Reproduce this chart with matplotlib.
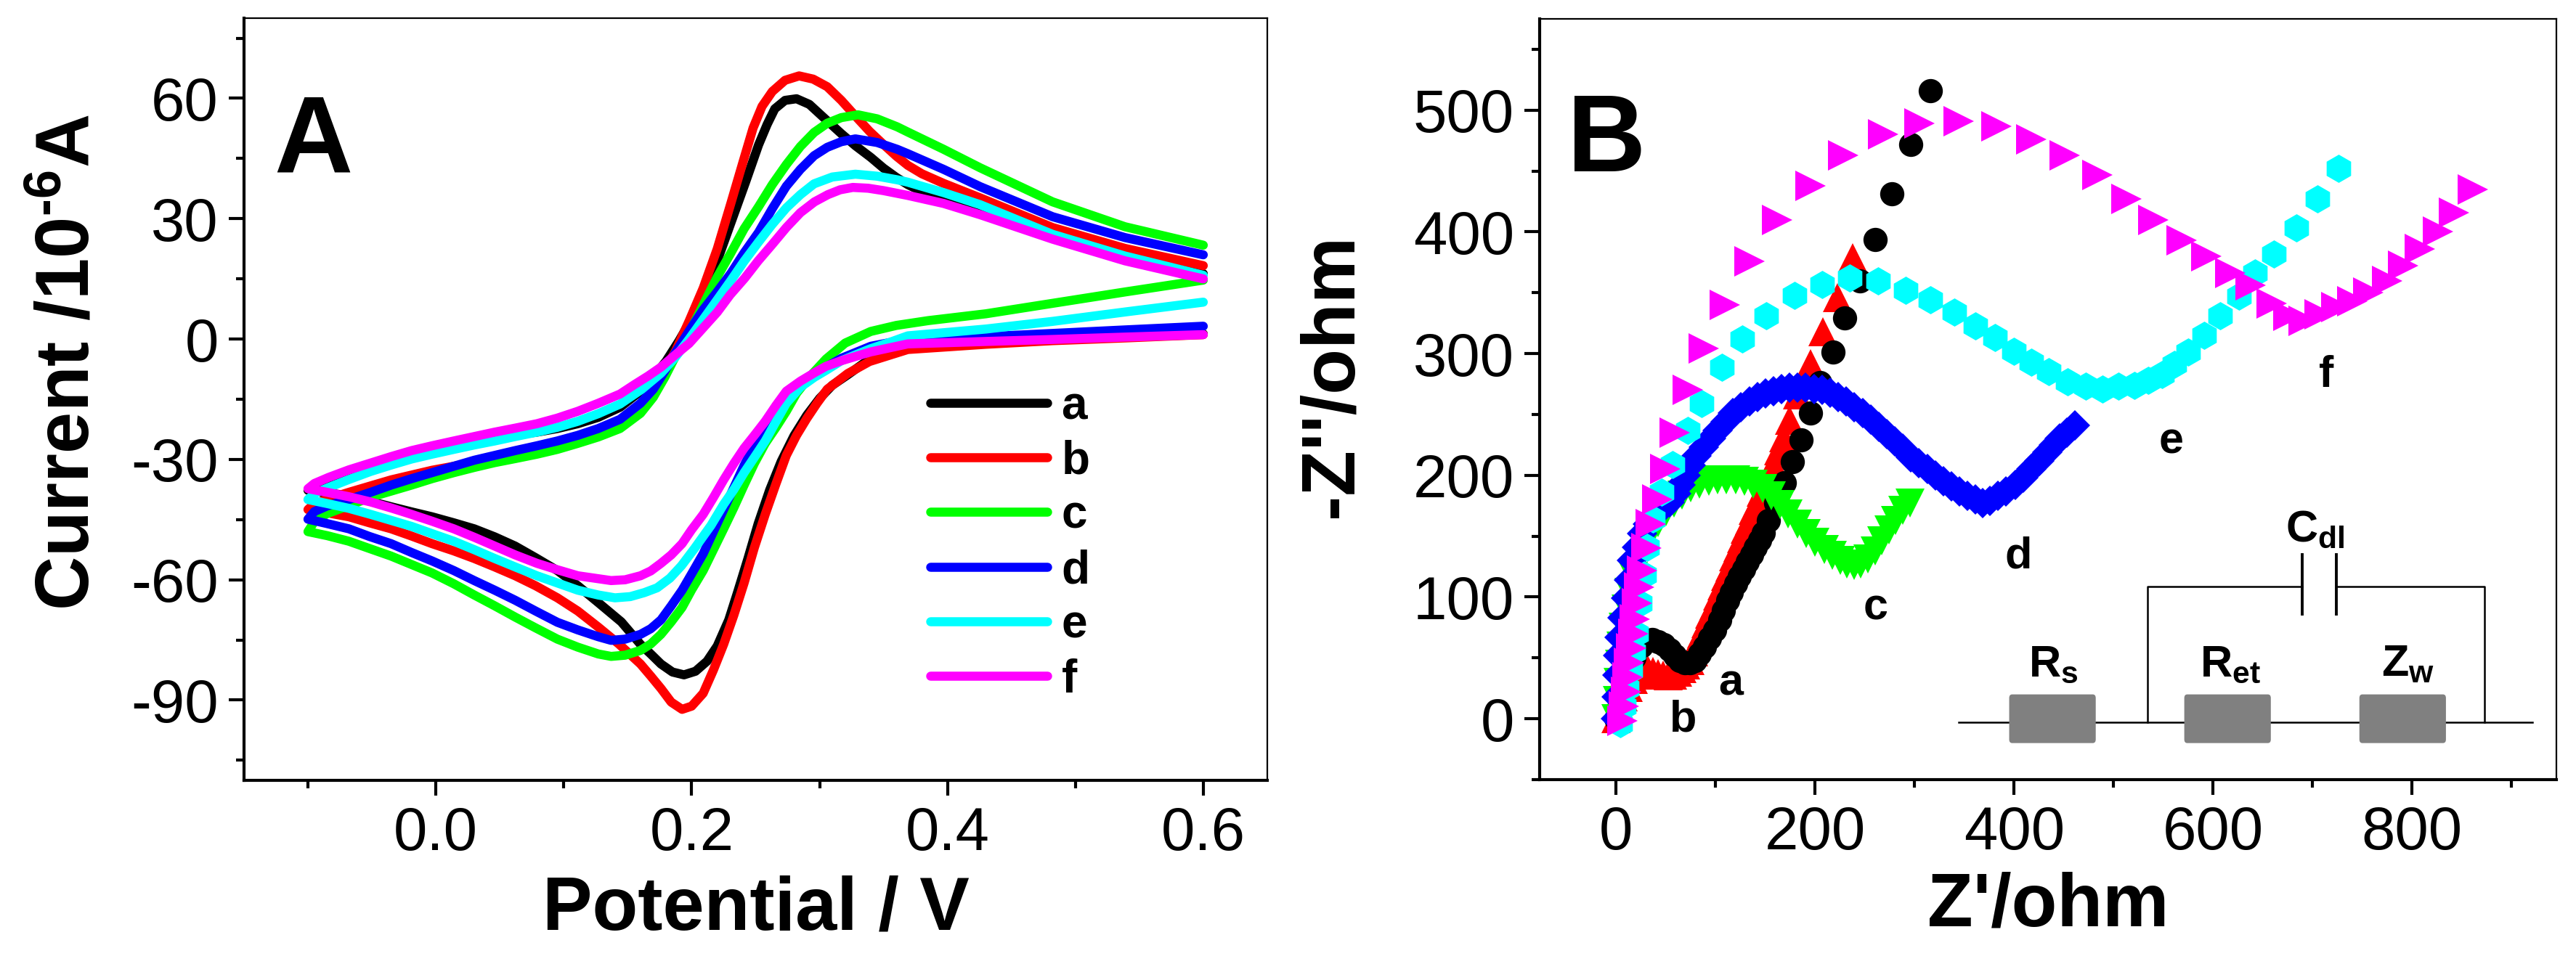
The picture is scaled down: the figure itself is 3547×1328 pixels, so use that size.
import matplotlib
matplotlib.use("Agg")
import matplotlib.pyplot as plt
from matplotlib.ticker import MultipleLocator, FormatStrFormatter
from matplotlib.patches import FancyBboxPatch

plt.rcParams['font.family'] = ['Liberation Sans', 'DejaVu Sans']
plt.rcParams['axes.unicode_minus'] = False
plt.rcParams['mathtext.fontset'] = 'custom'
plt.rcParams['mathtext.rm'] = 'Liberation Sans'
plt.rcParams['mathtext.bf'] = 'Liberation Sans:bold'
plt.rcParams['mathtext.it'] = 'Liberation Sans:italic'

# ---------------- panel A: cyclic voltammograms (reverse branch 0.6 -> -0.1, then forward -0.1 -> 0.6)
E_a = [0.6, 0.54, 0.482, 0.43, 0.369, 0.34, 0.322, 0.31, 0.3, 0.29, 0.28, 0.27, 0.261, 0.252, 0.244, 0.236,
       0.229, 0.22, 0.212, 0.203, 0.194, 0.185, 0.176, 0.168, 0.16, 0.145, 0.127, 0.111, 0.095, 0.078, 0.062,
       0.046, 0.03, 0.014, -0.003, -0.02, -0.035, -0.052, -0.068, -0.085, -0.1,
       -0.095, -0.084, -0.068, -0.051, -0.035, -0.019, -0.003, 0.014, 0.03, 0.046, 0.062, 0.079, 0.095, 0.111,
       0.127, 0.144, 0.158, 0.17, 0.18, 0.19, 0.2, 0.209, 0.22, 0.2307, 0.242, 0.2523, 0.259, 0.265, 0.273,
       0.282, 0.292, 0.306, 0.317, 0.328, 0.34, 0.35, 0.36, 0.369, 0.38, 0.397, 0.4255, 0.4822, 0.5388, 0.6]
I_a = [1.3, 0.6, 0.0, -0.9, -2.3, -4.8, -8.9, -11.5, -14.8, -19.0, -24.1, -30.5, -37.6, -46, -54.7, -63,
       -70.0, -76.5, -80.3, -82.8, -83.7, -83.0, -81.0, -78.5, -76.1, -70.5, -65.7, -61.5, -57.7, -54.5, -51.6,
       -49.3, -47.3, -45.8, -44.3, -43.0, -41.8, -40.4, -39.1, -38.3, -37.7,
       -36.5, -35.1, -33.4, -31.8, -30.4, -29.0, -27.9, -26.9, -25.8, -24.7, -23.9, -23.2, -22.3, -21.1,
       -19.5, -17.0, -13.5, -9.5, -5.5, -0.5, 5.0, 10.9, 19.5, 29.0, 39.0, 48.4, 53.5, 57.4, 59.5,
       59.9, 58.5, 54.4, 51.2, 48.2, 45.3, 42.6, 40.3, 38.5, 36.8, 34.6, 31.5, 25.6, 20.5, 16.3]

E_b = [0.6, 0.54, 0.482, 0.43, 0.369, 0.339, 0.322, 0.306, 0.298, 0.29, 0.282, 0.274, 0.266, 0.2575, 0.249,
       0.241, 0.233, 0.225, 0.217, 0.209, 0.2, 0.1925, 0.184, 0.176, 0.168, 0.16, 0.143, 0.127, 0.111, 0.095,
       0.078, 0.062, 0.046, 0.03, 0.014, -0.003, -0.019, -0.035, -0.052, -0.068, -0.085, -0.1,
       -0.095, -0.084, -0.068, -0.051, -0.035, -0.019, -0.003, 0.014, 0.03, 0.046, 0.062, 0.079, 0.095, 0.111,
       0.127, 0.144, 0.155, 0.1656, 0.176, 0.1873, 0.198, 0.209, 0.22, 0.2307, 0.24, 0.248, 0.255, 0.263, 0.273,
       0.284, 0.295, 0.306, 0.317, 0.328, 0.339, 0.35, 0.36, 0.369, 0.38, 0.397, 0.4255, 0.4822, 0.5388, 0.6]
I_b = [1.1, 0.3, -0.4, -1.3, -2.6, -5.6, -8.6, -12.5, -16, -19.8, -24, -29.0, -36, -43.7, -52,
       -60.8, -68.8, -76.1, -82.5, -88.3, -91.5, -92.3, -90.5, -87.1, -84.0, -81.0, -76.0, -71.8, -67.8, -64.5,
       -61.5, -59.0, -56.8, -54.7, -52.8, -51.0, -49.1, -47.3, -45.8, -44.3, -43.3, -42.5,
       -41.0, -39.8, -38.2, -36.6, -35.1, -33.9, -32.7, -31.7, -30.8, -30.0, -29.3, -28.3, -27.2, -25.8,
       -24.1, -21.5, -18.5, -14.7, -9.5, -3.0, 4.5, 12.7, 22.5, 33.9, 44.0, 52.6, 58.0, 61.7, 64.5,
       65.6, 64.8, 62.9, 59.5, 55.6, 51.8, 48.5, 45.6, 43.3, 41.2, 38.8, 35.2, 27.8, 22.6, 18.3]

E_c = [0.6, 0.54, 0.482, 0.43, 0.385, 0.36, 0.34, 0.32, 0.305, 0.292, 0.282, 0.274, 0.266, 0.2575, 0.249,
       0.241, 0.233, 0.225, 0.217, 0.209, 0.2, 0.1925, 0.184, 0.176, 0.168, 0.16, 0.148, 0.137, 0.127, 0.111,
       0.095, 0.078, 0.062, 0.046, 0.03, 0.014, -0.003, -0.019, -0.035, -0.052, -0.068, -0.085, -0.1,
       -0.095, -0.085, -0.068, -0.051, -0.035, -0.019, -0.003, 0.014, 0.03, 0.046, 0.062, 0.079, 0.095, 0.111,
       0.127, 0.144, 0.16, 0.17, 0.179, 0.187, 0.198, 0.209, 0.22, 0.2307, 0.241, 0.2523, 0.263, 0.274, 0.285,
       0.2957, 0.306, 0.317, 0.33, 0.345, 0.3607, 0.369, 0.397, 0.4255, 0.4822, 0.5388, 0.6]
I_c = [14.7, 11.8, 8.9, 6.3, 4.6, 3.4, 1.9, -1.0, -5.0, -9.5, -13.5, -18.0, -22.0, -26.0, -31,
       -36.4, -42, -47.3, -52.5, -57.7, -62.5, -66.9, -70.5, -73.6, -76, -77.6, -78.8, -79.1, -78.5, -76.8,
       -74.8, -72, -69.3, -66.5, -63.8, -61, -58.3, -56.2, -54.1, -52.2, -50.4, -49.0, -48.0,
       -45.5, -43.5, -41.5, -39.4, -37.9, -36.4, -34.8, -33.3, -32.0, -30.8, -29.8, -28.7, -27.5, -26.0,
       -24.4, -22.3, -18.5, -14.5, -9.5, -4.5, 1.5, 8.5, 15.5, 21.5, 27.5, 33.0, 38.5, 43.5, 48.0,
       51.5, 53.8, 55.2, 55.9, 54.9, 52.9, 51.6, 47.3, 42.7, 34.2, 28.0, 23.4]

E_d = [0.6, 0.54, 0.482, 0.43, 0.369, 0.34, 0.317, 0.305, 0.296, 0.29, 0.282, 0.274, 0.266, 0.2575, 0.249,
       0.241, 0.233, 0.225, 0.217, 0.209, 0.2, 0.1925, 0.184, 0.176, 0.168, 0.16, 0.148, 0.137, 0.127, 0.111,
       0.095, 0.078, 0.062, 0.046, 0.03, 0.014, -0.003, -0.019, -0.035, -0.052, -0.068, -0.085, -0.1,
       -0.095, -0.085, -0.068, -0.051, -0.035, -0.019, -0.003, 0.014, 0.03, 0.046, 0.062, 0.079, 0.095, 0.111,
       0.127, 0.144, 0.16, 0.17, 0.179, 0.187, 0.198, 0.209, 0.22, 0.2307, 0.241, 0.2523, 0.263, 0.274, 0.285,
       0.2957, 0.306, 0.317, 0.328, 0.345, 0.3607, 0.369, 0.397, 0.4255, 0.4822, 0.5388, 0.6]
I_d = [3.2, 2.3, 1.4, 0.6, 0.0, -1.8, -4.8, -7.0, -8.8, -10.7, -12.5, -15.0, -18, -21.7, -26.5,
       -31.5, -37, -42.5, -48, -53.5, -58.5, -62.6, -66.5, -70.0, -72.2, -73.6, -74.8, -75.1, -74.2, -72.5,
       -70.6, -67.8, -65.1, -62.6, -60.2, -57.7, -55.3, -53.2, -51.0, -49.2, -47.3, -46.0, -44.9,
       -43.0, -41.6, -40.0, -38.2, -36.4, -34.8, -33.3, -31.7, -30.2, -29.0, -27.8, -26.6, -25.4, -24.0,
       -22.3, -20.0, -16.0, -12.5, -8.0, -3.5, 2.0, 7.3, 11.8, 16.4, 21.5, 26.6, 32.5, 38.1, 42.3,
       45.7, 47.8, 49.2, 49.9, 49.0, 47.3, 46.2, 42.3, 38.0, 30.5, 25.3, 21.0]

E_e = [0.6, 0.54, 0.482, 0.43, 0.369, 0.355, 0.34, 0.317, 0.305, 0.296, 0.285, 0.274, 0.266, 0.2575, 0.249,
       0.241, 0.233, 0.225, 0.215, 0.2022, 0.192, 0.183, 0.173, 0.163, 0.152, 0.14, 0.127, 0.111, 0.095,
       0.079, 0.062, 0.046, 0.03, 0.014, -0.003, -0.019, -0.035, -0.051, -0.068, -0.085, -0.1,
       -0.095, -0.084, -0.068, -0.051, -0.035, -0.019, -0.003, 0.014, 0.03, 0.046, 0.062, 0.079, 0.095, 0.111,
       0.127, 0.144, 0.161, 0.176, 0.1873, 0.198, 0.209, 0.22, 0.2307, 0.241, 0.2523, 0.263, 0.274, 0.285,
       0.2957, 0.31, 0.328, 0.345, 0.3607, 0.369, 0.397, 0.4255, 0.4822, 0.5388, 0.6]
I_e = [9.2, 6.8, 4.4, 2.5, 0.8, -0.8, -2.4, -5.4, -7.8, -9.5, -12.0, -16.0, -20.5, -25.4, -29.5,
       -33.3, -37.5, -41.2, -46.5, -52.2, -56.5, -59.6, -62.0, -63.2, -64.2, -64.5, -63.8, -62.6, -60.8,
       -59.0, -56.8, -54.7, -52.5, -50.4, -48.5, -46.7, -45.2, -43.7, -42.2, -41.0, -40.0,
       -38.5, -37.0, -35.0, -33.0, -31.4, -29.9, -28.7, -27.5, -26.4, -25.4, -24.3, -23.2, -22.0, -20.5,
       -18.6, -16.2, -12.5, -8.5, -4.5, 0.0, 4.9, 9.8, 14.6, 19.4, 24.2, 28.6, 32.7, 36.0,
       38.7, 40.4, 41.1, 40.6, 39.7, 39.1, 36.5, 33.5, 26.1, 20.7, 15.9]

E_f = [0.6, 0.54, 0.482, 0.43, 0.369, 0.34, 0.317, 0.305, 0.296, 0.285, 0.274, 0.266, 0.2575, 0.249, 0.241,
       0.233, 0.225, 0.217, 0.209, 0.2, 0.1925, 0.184, 0.176, 0.168, 0.16, 0.148, 0.137, 0.124, 0.111, 0.095,
       0.079, 0.062, 0.046, 0.03, 0.014, -0.003, -0.019, -0.035, -0.051, -0.068, -0.085, -0.1,
       -0.095, -0.084, -0.068, -0.051, -0.035, -0.019, -0.003, 0.014, 0.03, 0.046, 0.062, 0.079, 0.095, 0.111,
       0.127, 0.144, 0.155, 0.166, 0.176, 0.187, 0.198, 0.209, 0.22, 0.23, 0.2415, 0.252, 0.263, 0.274, 0.285,
       0.296, 0.3065, 0.316, 0.326, 0.338, 0.35, 0.369, 0.397, 0.4255, 0.4822, 0.5388, 0.6]
I_f = [1.1, 0.5, -0.1, -0.6, -1.2, -3.2, -5.4, -6.8, -8.4, -10.5, -13.0, -16.5, -20.5, -24, -27.2,
       -31, -35.1, -39.5, -43.7, -47.5, -51.0, -53.8, -55.9, -57.8, -59.0, -60.0, -60.2, -59.6, -59.0, -57.5,
       -55.9, -53.8, -51.6, -49.4, -47.3, -45.4, -43.7, -42.1, -40.6, -39.3, -38.2, -37.3,
       -36.0, -34.5, -32.6, -30.9, -29.3, -27.8, -26.6, -25.4, -24.3, -23.2, -22.2, -21.1, -19.7, -18.0,
       -16.0, -13.7, -11.4, -9.2, -7.0, -4.0, -1.1, 2.8, 6.7, 11.0, 15.2, 19.5, 23.6, 27.8, 31.5,
       34.2, 36.0, 37.2, 37.8, 37.6, 37.0, 35.8, 33.8, 31.0, 24.9, 19.5, 15.0]

cv_labels = ['a', 'b', 'c', 'd', 'e', 'f']
cv_colors = ['#000000', '#ff0000', '#00ff00', '#0000ff', '#00ffff', '#ff00ff']

# ---------------- panel B: Nyquist plots
Zr_a = [0, 3, 7, 12, 18, 25, 31, 36, 42, 48, 54, 59, 64, 69, 74, 79, 84, 89, 94, 99, 104, 108, 112, 116, 120,
        124, 128, 132, 136, 140, 144, 148, 153, 160, 169, 177, 186, 195, 205, 218, 230, 245, 260, 277, 296, 316]
Zi_a = [0, 12, 25, 38, 50, 60, 64, 65, 63, 61, 57, 52, 48, 46, 46, 48, 53, 59, 66, 73, 81, 89, 97, 104, 111,
        117, 123, 129, 135, 141, 147, 153, 163, 177, 194, 211, 229, 251, 276, 301, 329, 360, 394, 431, 472, 516]

Zr_b = [0, 3, 7, 12, 17, 22, 27, 32, 37, 42, 47, 52, 57, 62, 66, 70, 74, 78, 82, 86, 90, 94, 98, 102, 106,
        110, 114, 118, 122, 126, 130, 134, 138, 142, 146, 150, 154, 158, 163, 168, 174, 182, 195, 208, 222, 238]
Zi_b = [0, 9, 18, 26, 32, 36, 39, 40, 39, 37, 36, 35, 36, 38, 41, 44, 48, 55, 63, 70, 78, 86, 93, 101, 109,
        117, 125, 133, 141, 148, 156, 163, 171, 178, 186, 193, 201, 209, 220, 231, 245, 266, 292, 318, 346, 379]

Zr_c = [0, 1, 2, 3, 5, 7, 10, 13, 17, 22, 28, 35, 42, 50, 58, 66, 75, 84, 93, 102, 111, 120, 129, 138, 147,
        156, 165, 173, 182, 191, 200, 209, 217, 225, 232, 239, 246, 253, 260, 267, 274, 281, 288, 295]
Zi_c = [0, 15, 30, 45, 60, 75, 90, 104, 117, 130, 142, 152, 161, 170, 177, 184, 190, 193, 195, 196, 196, 196,
        195, 193, 189, 183, 176, 168, 160, 152, 145, 139, 134, 130, 127, 126, 127, 131, 138, 146, 155, 163,
        171, 177]

Zr_d = [0, 0.5, 1, 2, 3, 6, 10, 13, 16, 21, 26, 32, 39, 46, 54, 60, 65, 70, 75, 81, 88, 95, 102, 110, 117,
        125, 134, 142, 150, 158, 166, 174, 182, 190, 199, 207, 215, 223, 231, 239, 248, 256, 264, 272, 280,
        288, 296, 304, 313, 321, 329, 337, 345, 353, 361, 368, 376, 384, 392, 401, 409, 417, 425, 433, 440,
        446, 453, 461]
Zi_d = [0, 18, 36, 52, 67, 83, 99, 114, 130, 141, 152, 160, 167, 173, 178, 185, 192, 200, 208, 216, 223, 230,
        237, 244, 251, 256, 261, 264, 267, 269, 271, 272, 272, 272, 271, 270, 268, 264, 261, 256, 251, 246,
        240, 234, 228, 222, 215, 210, 205, 200, 195, 191, 187, 183, 180, 177, 179, 183, 187, 192, 198, 205,
        212, 219, 225, 230, 235, 241]

Zr_e = [4, 8, 11, 14, 17, 20, 24, 28, 31, 37, 46, 57, 72, 86, 106, 127, 151, 179, 207, 235, 263, 291, 316,
        340, 361, 381, 400, 417, 435, 454, 472, 489, 505, 521, 535, 549, 561, 575, 591, 607, 626, 642, 661,
        684, 705, 726]
Zi_e = [-4, 10, 25, 40, 55, 70, 95, 118, 141, 164, 186, 209, 237, 259, 289, 312, 331, 348, 357, 362, 360,
        352, 344, 334, 323, 313, 302, 293, 285, 277, 273, 271, 273, 274, 278, 283, 291, 301, 315, 331, 347,
        366, 382, 403, 427, 452]

Zr_f = [6, 8, 10, 11.5, 13, 15, 17, 19, 21, 23, 26, 30, 35, 41, 49, 59, 72, 88, 109, 134, 162, 195, 228,
        268, 305, 344, 382, 417, 451, 484, 513, 540, 568, 593, 617, 638, 659, 676, 691, 707, 724, 740, 756,
        775, 791, 808, 826, 842, 861]
Zi_f = [-2, 10, 22, 34, 46, 58, 70, 82, 95, 108, 122, 140, 160, 180, 205, 235, 270, 304, 340, 376, 410, 438,
        463, 480, 489, 491, 487, 476, 463, 447, 427, 410, 393, 380, 366, 356, 341, 331, 327, 332, 338, 343,
        350, 360, 372, 386, 400, 416, 435]

eis_markers = ['o', '^', 'v', 'D', 'h', '>']
eis_sizes = [12, 14.5, 14.5, 10.5, 14, 15]
# label positions (Z', -Z'') next to each spectrum
eis_label_x = [115.5, 67.7, 261, 404.5, 558, 714]
eis_label_y = [19.3, -10.3, 81.5, 123.6, 218.2, 272.7]

fig = plt.figure(figsize=(17.74, 6.64), dpi=200)
axA = fig.add_axes([0.0947, 0.1905, 0.3971, 0.7907])
axB = fig.add_axes([0.5975, 0.1913, 0.3946, 0.7891])


def style_axes(ax):
    for side in ['left', 'bottom']:
        ax.spines[side].set_linewidth(1.5)
    for side in ['top', 'right']:
        ax.spines[side].set_linewidth(0.8)
    ax.tick_params(which='both', direction='out', top=False, right=False, width=1.5)
    ax.tick_params(which='major', length=7.6, labelsize=30, pad=5)
    ax.tick_params(which='minor', length=4)


# panel A
cv_E = [E_a, E_b, E_c, E_d, E_e, E_f]
cv_I = [I_a, I_b, I_c, I_d, I_e, I_f]
handles = []
for E, I, col, lab in zip(cv_E, cv_I, cv_colors, cv_labels):
    ln, = axA.plot(E, I, color=col, lw=4.5, solid_capstyle='round', solid_joinstyle='round', label=lab)
    handles.append(ln)

axA.set_xlim(-0.15, 0.65)
axA.set_ylim(-110, 80)
axA.xaxis.set_major_locator(MultipleLocator(0.2))
axA.xaxis.set_minor_locator(MultipleLocator(0.1))
axA.xaxis.set_major_formatter(FormatStrFormatter('%.1f'))
axA.yaxis.set_major_locator(MultipleLocator(30))
axA.yaxis.set_minor_locator(MultipleLocator(15))
style_axes(axA)
axA.set_xlabel('Potential / V', fontsize=37, fontweight='bold')
axA.set_ylabel('Current /10$^{\\mathbf{\u20106}}$A', fontsize=37, fontweight='bold')
axA.xaxis.set_label_coords(0.5, -0.124)
axA.yaxis.set_label_coords(-0.1356, 0.548)
axA.text(0.029, 0.799, 'A', transform=axA.transAxes, fontsize=54, fontweight='bold',
         ha='left', va='baseline')
axA.legend(handles=handles, loc='upper left', bbox_to_anchor=(0.671, 0.519), frameon=False,
           prop={'weight': 'bold', 'size': 23}, handlelength=2.52, handletextpad=0.3,
           labelspacing=0.24, borderpad=0, borderaxespad=0)

# panel B
eis_x = [Zr_a, Zr_b, Zr_c, Zr_d, Zr_e, Zr_f]
eis_y = [Zi_a, Zi_b, Zi_c, Zi_d, Zi_e, Zi_f]
order = [1, 0, 2, 3, 4, 5]
for k in order:
    axB.plot(eis_x[k], eis_y[k], ls='none', marker=eis_markers[k], ms=eis_sizes[k],
             color=cv_colors[k], mew=0, clip_on=False)
for k in range(6):
    axB.text(eis_label_x[k], eis_label_y[k], cv_labels[k], fontsize=22, fontweight='bold',
             ha='center', va='baseline')

axB.set_xlim(-77, 945)
axB.set_ylim(-50, 575)
axB.xaxis.set_major_locator(MultipleLocator(200))
axB.xaxis.set_minor_locator(MultipleLocator(100))
axB.yaxis.set_major_locator(MultipleLocator(100))
axB.yaxis.set_minor_locator(MultipleLocator(50))
style_axes(axB)
axB.set_xlabel("Z'/ohm", fontsize=37, fontweight='bold')
axB.set_ylabel("-Z''/ohm", fontsize=37, fontweight='bold')
axB.xaxis.set_label_coords(0.5, -0.121)
axB.yaxis.set_label_coords(-0.169, 0.531)
axB.text(0.027, 0.80, 'B', transform=axB.transAxes, fontsize=54, fontweight='bold',
         ha='left', va='baseline')

# equivalent circuit inset (drawn in data units of panel B)
wire_y = -3
axB.plot([344, 921], [wire_y, wire_y], color='k', lw=0.9)
for x0, x1 in [(395, 482), (571, 658), (747, 834)]:
    axB.add_patch(FancyBboxPatch((x0, -20), x1 - x0, 40, boxstyle='round,pad=0,rounding_size=3',
                                 fc='#808080', ec='none', zorder=3))
loop_l, loop_r, loop_top = 534, 873, 108.6
axB.plot([loop_l, loop_l, 689.5], [wire_y, loop_top, loop_top], color='k', lw=0.9)
axB.plot([724, loop_r, loop_r], [loop_top, loop_top, wire_y], color='k', lw=0.9)
axB.plot([689.5, 689.5], [86, 135], color='k', lw=1.4)
axB.plot([724, 724], [86, 135], color='k', lw=1.4)
axB.text(439.5, 35, r'R$_\mathbf{s}$', fontsize=22, fontweight='bold', ha='center', va='baseline')
axB.text(617, 35, r'R$_\mathbf{et}$', fontsize=22, fontweight='bold', ha='center', va='baseline')
axB.text(795.5, 35, r'Z$_\mathbf{w}$', fontsize=22, fontweight='bold', ha='center', va='baseline')
axB.text(702.5, 146, r'C$_\mathbf{dl}$', fontsize=22, fontweight='bold', ha='center', va='baseline')

fig.savefig('out.png', dpi=200)
